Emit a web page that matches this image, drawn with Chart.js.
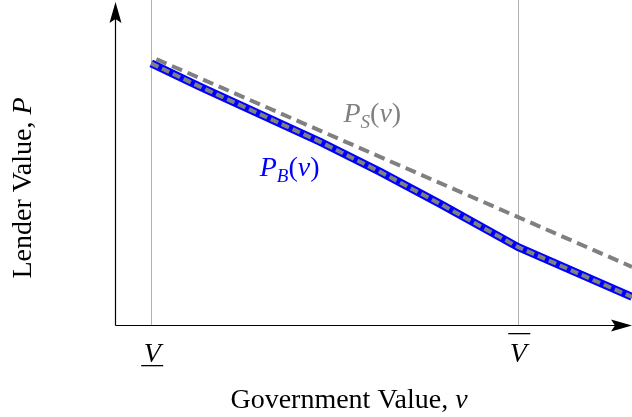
<!DOCTYPE html>
<html>
<head>
<meta charset="utf-8">
<script src="https://cdn.jsdelivr.net/npm/chart.js@4.4.1/dist/chart.umd.min.js"></script>
<style>
  html, body { margin: 0; padding: 0; background: #fff; }
  #wrap { width: 632px; height: 417px; }
</style>
</head>
<body>
<div id="wrap"><canvas id="chart" width="632" height="417"></canvas></div>
<script>
//government value points (v) and lender value of the two curves
const vBorrow = [7, 16.4, 28, 39.7, 51.3, 62.9, 78, 100];
const pBorrow = [81.0, 73.8, 65.3, 56.7, 47.4, 37.5, 24.1, 8.7];
const vSeller = [8, 100];
const pSeller = [82.3, 18.0];
//marked values on the x axis
const vLow = 7;
const vHigh = 78;

const serif = "'Liberation Serif', 'DejaVu Serif', serif";
const toPoints = (xs, ys) => xs.map((x, i) => ({ x: x, y: ys[i] }));

//draw a row of text pieces, each with its own font and vertical shift
const drawPieces = (ctx, x, y, pieces, color) => {
  ctx.fillStyle = color;
  ctx.textBaseline = "alphabetic";
  ctx.textAlign = "left";
  let cx = x;
  for (const p of pieces) {
    ctx.font = p.font;
    ctx.fillText(p.text, cx, y + (p.dy || 0));
    cx += ctx.measureText(p.text).width + (p.gap || 0);
  }
};

//axes with arrows, guide lines and all the labels
const decorations = {
  id: "decorations",
  beforeDatasetsDraw(chart) {
    const { ctx, scales } = chart;
    const xs = scales.x, ys = scales.y;
    ctx.save();
    //vertical guide lines at the two marked values
    ctx.strokeStyle = "#b0b0b0";
    ctx.lineWidth = 1;
    for (const v of [vLow, vHigh]) {
      const px = Math.round(xs.getPixelForValue(v)) + 0.5;
      ctx.beginPath();
      ctx.moveTo(px, 0);
      ctx.lineTo(px, ys.getPixelForValue(0));
      ctx.stroke();
    }
    ctx.restore();
  },
  afterDatasetsDraw(chart) {
    const { ctx, scales } = chart;
    const xs = scales.x, ys = scales.y;
    const x0 = Math.round(xs.getPixelForValue(0)) + 0.5;
    const y0 = Math.round(ys.getPixelForValue(0)) + 0.5;
    const xEnd = xs.getPixelForValue(xs.max);
    const yTop = ys.getPixelForValue(ys.max);
    ctx.save();
    ctx.strokeStyle = "#000";
    ctx.fillStyle = "#000";
    ctx.lineWidth = 1.2;
    //axis lines
    ctx.beginPath();
    ctx.moveTo(x0, y0);
    ctx.lineTo(x0, yTop + 10);
    ctx.moveTo(x0, y0);
    ctx.lineTo(xEnd - 10, y0);
    ctx.stroke();
    //arrow heads
    ctx.beginPath();
    ctx.moveTo(x0, yTop);
    ctx.lineTo(x0 - 6, yTop + 21);
    ctx.lineTo(x0, yTop + 17);
    ctx.lineTo(x0 + 6, yTop + 21);
    ctx.closePath();
    ctx.fill();
    ctx.beginPath();
    ctx.moveTo(xEnd, y0);
    ctx.lineTo(xEnd - 21, y0 - 6);
    ctx.lineTo(xEnd - 17, y0);
    ctx.lineTo(xEnd - 21, y0 + 6);
    ctx.closePath();
    ctx.fill();

    //V labels under the axis
    const it = "italic 28px " + serif;
    const up = "28px " + serif;
    ctx.font = it;
    ctx.textAlign = "center";
    ctx.textBaseline = "alphabetic";
    const pLow = xs.getPixelForValue(vLow);
    const pHigh = xs.getPixelForValue(vHigh);
    ctx.fillText("V", pLow + 1, 362);
    ctx.fillText("V", pHigh, 362);
    ctx.fillRect(pLow - 10, 365, 22, 1.3);
    ctx.fillRect(pHigh - 10, 333, 22, 1.3);

    //axis titles
    ctx.font = up;
    const xt = "Government Value, ";
    const wx = ctx.measureText(xt).width;
    ctx.font = it;
    const wv = ctx.measureText("v").width;
    drawPieces(ctx, 349 - (wx + wv) / 2, 408, [
      { text: xt, font: up },
      { text: "v", font: it },
    ], "#000");

    ctx.save();
    ctx.translate(31, 188);
    ctx.rotate(-Math.PI / 2);
    ctx.font = up;
    const yt = "Lender Value, ";
    const wy = ctx.measureText(yt).width;
    ctx.font = it;
    const wp = ctx.measureText("P").width;
    drawPieces(ctx, -(wy + wp) / 2, 0, [
      { text: yt, font: up },
      { text: "P", font: it },
    ], "#000");
    ctx.restore();

    //curve labels
    const sub = "italic 19px " + serif;
    drawPieces(ctx, xs.getPixelForValue(44.2), ys.getPixelForValue(63), [
      { text: "P", font: it },
      { text: "S", font: sub, dy: 6 },
      { text: "(", font: up },
      { text: "v", font: it },
      { text: ")", font: up },
    ], "#808080");
    drawPieces(ctx, xs.getPixelForValue(28), ys.getPixelForValue(46), [
      { text: "P", font: it },
      { text: "B", font: sub, dy: 6 },
      { text: "(", font: up },
      { text: "v", font: it },
      { text: ")", font: up },
    ], "#0000ff");
    ctx.restore();
  },
};

new Chart(document.getElementById("chart"), {
  type: "line",
  plugins: [decorations],
  data: {
    datasets: [
      {
        //dashed gray core drawn over the blue curve
        data: toPoints(vBorrow, pBorrow),
        borderColor: "#808080",
        borderWidth: 4,
        borderDash: [8, 4],
        pointRadius: 0,
        tension: 0,
        order: 1,
      },
      {
        data: toPoints(vBorrow, pBorrow),
        borderColor: "#0000ff",
        borderWidth: 8,
        pointRadius: 0,
        tension: 0,
        order: 2,
      },
      {
        data: toPoints(vSeller, pSeller),
        borderColor: "#808080",
        borderWidth: 4,
        borderDash: [11, 6],
        pointRadius: 0,
        tension: 0,
        order: 3,
      },
    ],
  },
  options: {
    responsive: false,
    animation: false,
    layout: { padding: { left: 115, right: 0, top: 2, bottom: 92 } },
    scales: {
      x: { type: "linear", min: 0, max: 100, display: false },
      y: { type: "linear", min: 0, max: 100, display: false },
    },
    plugins: {
      legend: { display: false },
      tooltip: { enabled: false },
    },
  },
});
</script>
</body>
</html>
